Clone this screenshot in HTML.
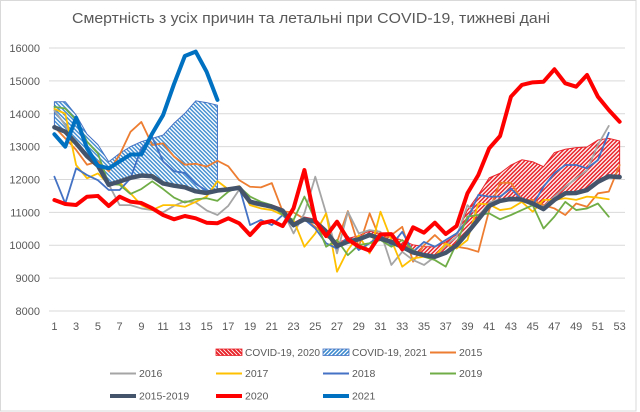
<!DOCTYPE html>
<html><head><meta charset="utf-8"><style>
html,body{margin:0;padding:0;background:#fff;}
svg{display:block;}
text{font-family:"Liberation Sans",Arial,sans-serif;fill:#595959;}
</style></head><body>
<svg width="640" height="412" viewBox="0 0 640 412" xmlns="http://www.w3.org/2000/svg">
<defs>
<pattern id="hr" patternUnits="userSpaceOnUse" width="4" height="4" patternTransform="matrix(0.091996 0 0 -30.4183 0 0)">
<rect width="4" height="4" fill="#fff"/>
<path d="M-1,1 L1,-1 M0,4 L4,0 M3,5 L5,3" stroke="#E8242A" stroke-width="1.5"/>
</pattern>
<pattern id="hb" patternUnits="userSpaceOnUse" width="4" height="4" patternTransform="matrix(0.091996 0 0 -30.4183 0 0)">
<rect width="4" height="4" fill="#fff"/>
<path d="M-1,3 L1,5 M0,0 L4,4 M3,-1 L5,1" stroke="#3D8BCF" stroke-width="1.4"/>
</pattern>
<pattern id="hrL" patternUnits="userSpaceOnUse" width="4" height="4">
<rect width="4" height="4" fill="#fff"/>
<path d="M-1,3 L1,5 M0,0 L4,4 M3,-1 L5,1" stroke="#E8242A" stroke-width="2"/>
</pattern>
<pattern id="hbL" patternUnits="userSpaceOnUse" width="4" height="4">
<rect width="4" height="4" fill="#fff"/>
<path d="M-1,1 L1,-1 M0,4 L4,0 M3,5 L5,3" stroke="#3D8BCF" stroke-width="1.6"/>
</pattern>
</defs>
<rect width="640" height="412" fill="#fff"/>
<rect x="0.5" y="0.5" width="635.5" height="410.5" fill="none" stroke="#D9D9D9"/>

<text x="311" y="23" font-size="15" text-anchor="middle" textLength="478" lengthAdjust="spacingAndGlyphs">Смертність з усіх причин та летальні при COVID-19, тижневі дані</text>

<g stroke="#D9D9D9" stroke-width="1">
<line x1="49" x2="625" y1="48" y2="48"/>
<line x1="49" x2="625" y1="80.9" y2="80.9"/>
<line x1="49" x2="625" y1="113.75" y2="113.75"/>
<line x1="49" x2="625" y1="146.6" y2="146.6"/>
<line x1="49" x2="625" y1="179.5" y2="179.5"/>
<line x1="49" x2="625" y1="212.4" y2="212.4"/>
<line x1="49" x2="625" y1="245.25" y2="245.25"/>
<line x1="49" x2="625" y1="278.1" y2="278.1"/>
<line x1="49" x2="625" y1="311" y2="311"/>
</g>

<g font-size="11" text-anchor="end">
<text x="40" y="52">16000</text>
<text x="40" y="85">15000</text>
<text x="40" y="118">14000</text>
<text x="40" y="150.5">13000</text>
<text x="40" y="183.5">12000</text>
<text x="40" y="216.5">11000</text>
<text x="40" y="249">10000</text>
<text x="40" y="282">9000</text>
<text x="40" y="315">8000</text>
</g>

<g font-size="11" text-anchor="middle">
<text x="54.4" y="330">1</text>
<text x="76.1" y="330">3</text>
<text x="97.9" y="330">5</text>
<text x="119.6" y="330">7</text>
<text x="141.4" y="330">9</text>
<text x="163.1" y="330">11</text>
<text x="184.8" y="330">13</text>
<text x="206.6" y="330">15</text>
<text x="228.3" y="330">17</text>
<text x="250.1" y="330">19</text>
<text x="271.8" y="330">21</text>
<text x="293.5" y="330">23</text>
<text x="315.3" y="330">25</text>
<text x="337" y="330">27</text>
<text x="358.8" y="330">29</text>
<text x="380.5" y="330">31</text>
<text x="402.2" y="330">33</text>
<text x="424" y="330">35</text>
<text x="445.7" y="330">37</text>
<text x="467.5" y="330">39</text>
<text x="489.2" y="330">41</text>
<text x="510.9" y="330">43</text>
<text x="532.7" y="330">45</text>
<text x="554.4" y="330">47</text>
<text x="576.2" y="330">49</text>
<text x="597.9" y="330">51</text>
<text x="619.6" y="330">53</text>
</g>

<g transform="matrix(10.87 0 0 -0.032875 43.53 574)" fill="none" stroke-linejoin="round" stroke-linecap="round">
<!-- COVID 2020 band -->
<polygon fill="url(#hr)" stroke="#E8242A" stroke-width="1" vector-effect="non-scaling-stroke" points="11,11870 12,11822 13,11782 14,11660 15,11620 16,11705 17,11740 18,11790 19,11370 20,11295 21,11228 22,11111 23,10681 24,10860 25,10791 26,10492 27,10067 28,10208 29,10290 30,10432 31,10340 32,10270 33,10150 34,10010 35,9960 36,9950 37,10100 38,10320 39,11070 40,11530 41,12050 42,12190 43,12440 44,12600 45,12540 46,12390 47,12820 48,12920 49,12970 50,12990 51,13200 52,13250 53,13170 53,12075 52,12095 51,11930 50,11680 49,11590 48,11580 47,11380 46,11100 45,11270 44,11390 43,11410 42,11350 41,11200 40,10790 39,10380 38,10000 37,9770 36,9650 35,9700 34,9780 33,9950 32,10100 31,10200 30,10312 29,10180 28,10108 27,9977 26,10412 25,10716 24,10790 23,10616 22,11051 21,11173 20,11245 19,11325 18,11750 17,11700 16,11665 15,11590 14,11640 13,11762 12,11812 11,11880"/>
<!-- COVID 2021 band -->
<polygon fill="url(#hb)" stroke="#4472C4" stroke-width="1" vector-effect="non-scaling-stroke" points="1,14366 2,14366 3,13960 4,13380 5,13060 6,12540 7,12795 8,13000 9,13150 10,13250 11,13350 12,13710 13,14010 14,14390 15,14340 16,14260 16,11665 15,11590 14,11640 13,11762 12,11812 11,11880 10,12100 9,12120 8,12050 7,11940 6,11840 5,12420 4,12710 3,13100 2,13455 1,13588"/>

<!-- 2015 -->
<polyline stroke="#ED7D31" stroke-width="1.8" vector-effect="non-scaling-stroke" points="1,13600 2,13250 3,12900 4,12450 5,12550 6,12250 7,12750 8,13450 9,13750 10,13050 11,13100 12,12700 13,12450 14,12480 15,12390 16,12570 17,12400 18,11980 19,11780 20,11760 21,11890 22,11030 23,11000 24,10800 25,10560 26,10260 27,10100 28,11040 29,9955 30,10970 31,10158 32,10310 33,10560 34,9500 35,10000 36,10310 37,10000 38,9955 39,9900 40,9800 41,11070 42,11900 43,11900 44,11380 45,11380 46,11220 47,11120 48,10920 49,11270 50,11170 51,11580 52,11630 53,12440"/>
<!-- 2016 -->
<polyline stroke="#A5A5A5" stroke-width="1.8" vector-effect="non-scaling-stroke" points="1,14100 2,13650 3,13100 4,12700 5,12400 6,11850 7,11220 8,11220 9,11120 10,11070 11,11000 12,11200 13,11340 14,11300 15,11060 16,10920 17,11200 18,11690 19,11250 20,11200 21,11150 22,11050 23,10360 24,10970 25,12085 26,10970 27,9753 28,11020 29,10360 30,10460 31,10410 32,9400 33,9800 34,9550 35,9400 36,9650 37,10000 38,10260 39,11220 40,10870 41,11300 42,11400 43,11350 44,11380 45,11250 46,11170 47,11480 48,11780 49,12030 50,12290 51,13050 52,13630"/>
<!-- 2017 -->
<polyline stroke="#FFC000" stroke-width="1.8" vector-effect="non-scaling-stroke" points="1,14150 2,14000 3,12440 4,12035 5,12186 6,11850 7,11910 8,11580 9,11220 10,11070 11,11220 12,11220 13,11170 14,11320 15,11480 16,11950 17,11700 18,11800 19,11220 20,11120 21,11070 22,10920 23,10770 24,9955 25,10360 26,10970 27,9195 28,9855 29,10300 30,9753 31,11020 32,10158 33,9347 34,9600 35,9650 36,9650 37,10050 38,9900 39,10160 40,11270 41,11240 42,11070 43,11120 44,11320 45,11020 46,11380 47,11380 48,11430 49,11380 50,11480 51,11450 52,11400"/>
<!-- 2018 -->
<polyline stroke="#4472C4" stroke-width="1.8" vector-effect="non-scaling-stroke" points="1,12085 2,11270 3,12340 4,12135 5,11980 6,11680 7,11680 8,12035 9,12950 10,13280 11,12550 12,12250 13,12200 14,11870 15,11660 16,11640 17,11700 18,11780 19,10615 20,10770 21,10615 22,10920 23,10564 24,10790 25,10510 26,10060 27,9900 28,10260 29,9855 30,10060 31,10310 32,10006 33,10410 34,9800 35,10100 36,9955 37,10160 38,10360 39,10770 40,11530 41,11480 42,11480 43,11730 44,11380 45,11220 46,11780 47,12190 48,12440 49,12440 50,12340 51,12590 52,13420"/>
<!-- 2019 -->
<polyline stroke="#70AD47" stroke-width="1.8" vector-effect="non-scaling-stroke" points="1,14210 2,14160 3,13810 4,13150 5,12795 6,11860 7,11840 8,11560 9,11710 10,11945 11,11710 12,11450 13,11300 14,11400 15,11430 16,11350 17,11630 18,11780 19,11480 20,11320 21,11220 22,10920 23,10770 24,11480 25,10770 26,9955 27,10160 28,9700 29,10006 30,10060 31,10160 32,9955 33,10160 34,9855 35,9650 36,9550 37,9350 38,10060 39,10870 40,10920 41,10970 42,10790 43,10920 44,11070 45,11220 46,10510 47,10870 48,11320 49,11070 50,11120 51,11270 52,10870"/>
<!-- 2015-2019 -->
<polyline stroke="#44546A" stroke-width="4.5" vector-effect="non-scaling-stroke" points="1,13588 2,13455 3,13100 4,12710 5,12420 6,11840 7,11940 8,12050 9,12120 10,12100 11,11880 12,11812 13,11762 14,11640 15,11590 16,11665 17,11700 18,11750 19,11325 20,11245 21,11173 22,11051 23,10616 24,10790 25,10716 26,10412 27,9977 28,10108 29,10180 30,10312 31,10200 32,10100 33,9950 34,9780 35,9700 36,9650 37,9770 38,10000 39,10380 40,10790 41,11200 42,11350 43,11410 44,11390 45,11270 46,11100 47,11380 48,11580 49,11590 50,11680 51,11930 52,12095 53,12075"/>
<!-- 2020 -->
<polyline stroke="#FF0000" stroke-width="4" vector-effect="non-scaling-stroke" points="1,11376 2,11255 3,11225 4,11477 5,11500 6,11194 7,11477 8,11325 9,11285 10,11125 11,10920 12,10790 13,10890 14,10820 15,10686 16,10670 17,10820 18,10668 19,10312 20,10668 21,10738 22,10585 23,11124 24,12289 25,10750 26,10280 27,10716 28,10180 29,9960 30,9835 31,10330 32,10340 33,9876 34,10546 35,10383 36,10686 37,10342 38,10585 39,11580 40,12137 41,12949 42,13323 43,14519 44,14875 45,14956 46,14975 47,15352 48,14925 49,14823 50,15179 51,14519 52,14114 53,13758"/>
<!-- 2021 -->
<polyline stroke="#0070C0" stroke-width="4" vector-effect="non-scaling-stroke" points="1,13375 2,13000 3,13880 4,12950 5,12420 6,12340 7,12550 8,12760 9,12760 10,13400 11,13960 12,14900 13,15757 14,15890 15,15280 16,14420"/>
</g>

<!-- Legend -->
<g font-size="10.5">
<rect x="216" y="349" width="26" height="6.5" fill="url(#hrL)" stroke="#E8242A" stroke-width="0.8"/>
<text x="245" y="356" textLength="75" lengthAdjust="spacingAndGlyphs">COVID-19, 2020</text>
<rect x="323" y="349" width="26" height="6.5" fill="url(#hbL)" stroke="#4472C4" stroke-width="0.8"/>
<text x="352" y="356" textLength="75" lengthAdjust="spacingAndGlyphs">COVID-19, 2021</text>
<line x1="430" x2="456" y1="352.5" y2="352.5" stroke="#ED7D31" stroke-width="2"/>
<text x="459" y="356">2015</text>

<line x1="110" x2="136" y1="373.5" y2="373.5" stroke="#A5A5A5" stroke-width="2"/>
<text x="139" y="377">2016</text>
<line x1="216" x2="242" y1="373.5" y2="373.5" stroke="#FFC000" stroke-width="2"/>
<text x="245" y="377">2017</text>
<line x1="323" x2="349" y1="373.5" y2="373.5" stroke="#4472C4" stroke-width="2"/>
<text x="352" y="377">2018</text>
<line x1="430" x2="456" y1="373.5" y2="373.5" stroke="#70AD47" stroke-width="2"/>
<text x="459" y="377">2019</text>

<line x1="110" x2="136" y1="396" y2="396" stroke="#44546A" stroke-width="4"/>
<text x="139" y="399.5">2015-2019</text>
<line x1="216" x2="242" y1="396" y2="396" stroke="#FF0000" stroke-width="4"/>
<text x="245" y="399.5">2020</text>
<line x1="323" x2="349" y1="396" y2="396" stroke="#0070C0" stroke-width="4"/>
<text x="352" y="399.5">2021</text>
</g>
</svg>
</body></html>
